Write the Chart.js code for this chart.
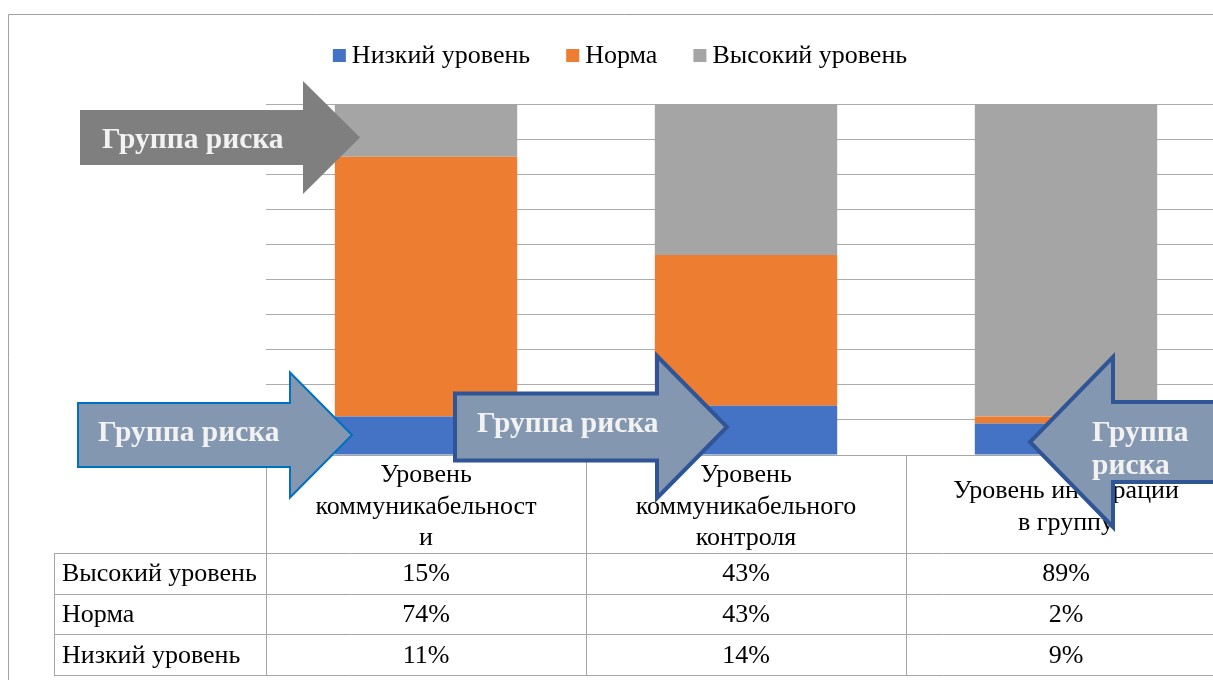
<!DOCTYPE html>
<html><head><meta charset="utf-8">
<script src="https://cdn.jsdelivr.net/npm/chart.js@4"></script>
<style>
html,body{margin:0;padding:0;background:#fff;overflow:hidden;width:1213px;height:680px}
#wrap{position:absolute;left:0;top:0;width:1240px;height:700px}
</style></head>
<body><div id="wrap"><canvas id="c" width="1240" height="700"></canvas></div>
<script>
// ---- data ----
const categories = ['Уровень коммуникабельности', 'Уровень коммуникабельного контроля', 'Уровень интеграции в группу'];
const categoryLines = [['Уровень', 'коммуникабельност', 'и'], ['Уровень', 'коммуникабельного', 'контроля'], ['Уровень интеграции', 'в группу']];
const seriesNames = ['Низкий уровень', 'Норма', 'Высокий уровень'];
const lowValues = [11, 14, 9];
const normValues = [74, 43, 2];
const highValues = [15, 43, 89];
const yMax = 100;
const yStep = 10;
const arrowLabel = 'Группа риска';

// ---- styles ----
const FONT = '"Liberation Serif","Times New Roman",serif';
const colors = ['#4472c4', '#ed7d31', '#a5a5a5'];
const gridColor = '#acacac';
const tableLine = '#a6a6a6';

const arrows = [
  {dir: 'right', x0: 80, tip: 360, yMid: 137.5, bodyH: 55, headW: 57, headH: 113, fill: '#7f7f7f', stroke: null, lw: 0, lines: [arrowLabel], tx: 102, ty: [148]},
  {dir: 'right', x0: 78, tip: 352, yMid: 435, bodyH: 64, headW: 62, headH: 125, fill: '#8497b0', stroke: '#0070c0', lw: 2, lines: [arrowLabel], tx: 98, ty: [441]},
  {dir: 'right', x0: 455, tip: 727, yMid: 427, bodyH: 67, headW: 70, headH: 142, fill: '#8497b0', stroke: '#2f5597', lw: 4, lines: [arrowLabel], tx: 477, ty: [432]},
  {dir: 'left', x0: 1270, tip: 1030, yMid: 442, bodyH: 80, headW: 83, headH: 170, fill: '#8497b0', stroke: '#2f5597', lw: 4, lines: arrowLabel.split(' '), tx: 1092, ty: [441, 474]}
];

const framePlugin = {
  id: 'frame',
  beforeDraw(chart) {
    const ctx = chart.ctx;
    ctx.save();
    ctx.fillStyle = '#fff';
    ctx.fillRect(0, 0, chart.width, chart.height);
    ctx.strokeStyle = '#a0a0a0';
    ctx.lineWidth = 1;
    ctx.beginPath();
    ctx.moveTo(8.5, chart.height);
    ctx.lineTo(8.5, 14.5);
    ctx.lineTo(chart.width, 14.5);
    ctx.stroke();
    ctx.restore();
  }
};

const legendPlugin = {
  id: 'customLegend',
  afterDraw(chart) {
    const ctx = chart.ctx;
    ctx.save();
    ctx.font = '26px ' + FONT;
    const box = 13, gap = 6, spacing = 36;
    const items = chart.data.datasets.map(d => ({text: d.label, color: d.backgroundColor, w: box + gap + ctx.measureText(d.label).width}));
    const total = items.reduce((s, it) => s + it.w, 0) + spacing * (items.length - 1);
    let x = chart.width / 2 - total / 2;
    const base = 63;
    items.forEach(it => {
      ctx.fillStyle = it.color;
      ctx.fillRect(x, 49, box, box);
      ctx.fillStyle = '#000';
      ctx.textBaseline = 'alphabetic';
      ctx.textAlign = 'left';
      ctx.fillText(it.text, x + box + gap, base);
      x += it.w + spacing;
    });
    ctx.restore();
  }
};

const tablePlugin = {
  id: 'dataTable',
  afterDraw(chart) {
    const ctx = chart.ctx;
    const ca = chart.chartArea;
    const xs = chart.scales.x;
    const n = chart.data.labels.length;
    const catW = (ca.right - ca.left) / n;
    const headTop = ca.bottom, headBot = ca.bottom + 98;
    const rowH = 40.7;
    const labelLeft = 54;
    const rows = [2, 1, 0]; // table order: high, norm, low
    const tableBot = headBot + rowH * rows.length;
    ctx.save();
    ctx.strokeStyle = tableLine;
    ctx.lineWidth = 1;
    ctx.beginPath();
    ctx.moveTo(ca.left, Math.round(headTop) + 0.5); ctx.lineTo(chart.width, Math.round(headTop) + 0.5);
    for (let r = 0; r <= rows.length; r++) {
      const y = Math.round(headBot + r * rowH) + 0.5;
      ctx.moveTo(labelLeft, y); ctx.lineTo(chart.width, y);
    }
    ctx.moveTo(labelLeft + 0.5, headBot); ctx.lineTo(labelLeft + 0.5, tableBot);
    for (let i = 0; i <= n; i++) {
      const x = Math.round(xs.getPixelForValue(i) - catW / 2) + 0.5;
      ctx.moveTo(x, headTop); ctx.lineTo(x, tableBot);
    }
    ctx.stroke();

    ctx.fillStyle = '#000';
    ctx.font = '26px ' + FONT;
    ctx.textBaseline = 'middle';
    for (let i = 0; i < n; i++) {
      const cx = xs.getPixelForValue(i);
      const lines = categoryLines[i];
      const lh = 31.5;
      const cy = (headTop + headBot) / 2 + 3;
      ctx.textAlign = 'center';
      lines.forEach((t, k) => ctx.fillText(t, cx, cy + (k - (lines.length - 1) / 2) * lh));
    }
    rows.forEach((di, r) => {
      const ds = chart.data.datasets[di];
      const cy = headBot + r * rowH + rowH / 2 + 1;
      ctx.textAlign = 'left';
      ctx.fillText(ds.label, 62, cy);
      ctx.textAlign = 'center';
      ds.data.forEach((v, i) => ctx.fillText(v + '%', xs.getPixelForValue(i), cy));
    });
    ctx.restore();
  }
};

const arrowPlugin = {
  id: 'arrows',
  afterDraw(chart) {
    const ctx = chart.ctx;
    ctx.save();
    arrows.forEach(a => {
      const s = a.dir === 'right' ? 1 : -1;
      const hb = a.tip - s * a.headW;
      const bt = a.yMid - a.bodyH / 2, bb = a.yMid + a.bodyH / 2;
      const ht = a.yMid - a.headH / 2, hbm = a.yMid + a.headH / 2;
      ctx.beginPath();
      ctx.moveTo(a.x0, bt);
      ctx.lineTo(hb, bt);
      ctx.lineTo(hb, ht);
      ctx.lineTo(a.tip, a.yMid);
      ctx.lineTo(hb, hbm);
      ctx.lineTo(hb, bb);
      ctx.lineTo(a.x0, bb);
      ctx.closePath();
      ctx.fillStyle = a.fill;
      ctx.fill();
      if (a.stroke) {
        ctx.strokeStyle = a.stroke;
        ctx.lineWidth = a.lw;
        ctx.lineJoin = 'miter';
        ctx.stroke();
      }
      ctx.fillStyle = '#f2f2f2';
      ctx.font = 'bold 29.5px ' + FONT;
      ctx.textAlign = 'left';
      ctx.textBaseline = 'alphabetic';
      a.lines.forEach((t, k) => ctx.fillText(t, a.tx, a.ty[k]));
    });
    ctx.restore();
  }
};

const seriesValues = [lowValues, normValues, highValues];
new Chart(document.getElementById('c'), {
  type: 'bar',
  data: {
    labels: categories,
    datasets: seriesNames.map((name, i) => ({
      label: name,
      data: seriesValues[i],
      backgroundColor: colors[i],
      borderWidth: 0,
      categoryPercentage: 1,
      barPercentage: 0.57
    }))
  },
  options: {
    responsive: false,
    animation: false,
    devicePixelRatio: 1,
    layout: {padding: {left: 266, top: 104, right: 14, bottom: 245}},
    plugins: {legend: {display: false}, tooltip: {enabled: false}},
    scales: {
      x: {
        stacked: true,
        grid: {display: false},
        border: {display: false},
        ticks: {display: false},
        afterFit(s) { s.height = 0; }
      },
      y: {
        stacked: true,
        min: 0, max: yMax,
        ticks: {display: false, stepSize: yStep},
        grid: {color: gridColor, drawTicks: false, lineWidth: 1},
        border: {display: false},
        afterFit(s) { s.width = 0; }
      }
    }
  },
  plugins: [framePlugin, legendPlugin, tablePlugin, arrowPlugin]
});
</script>
</body></html>
